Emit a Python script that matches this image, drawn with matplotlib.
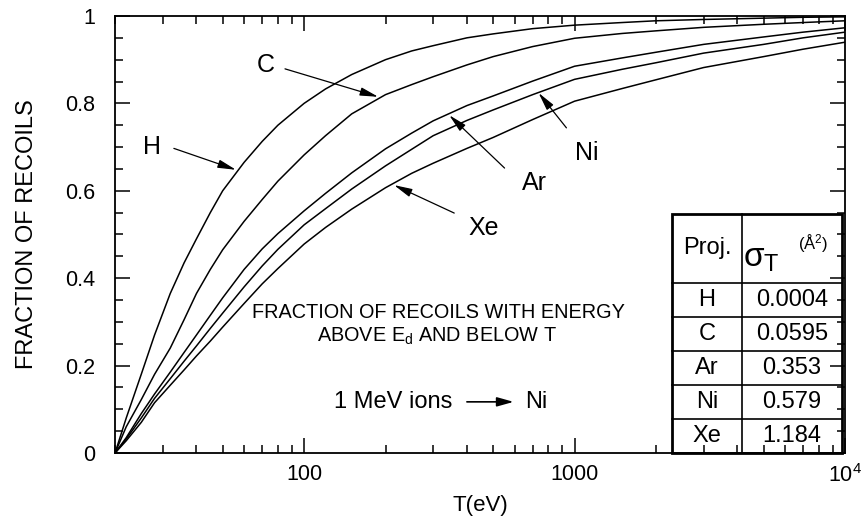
import matplotlib
matplotlib.use('Agg')
import matplotlib.pyplot as plt
from matplotlib.ticker import FixedLocator, FixedFormatter, LogLocator, NullFormatter, MultipleLocator

plt.rcParams['font.family'] = ['Liberation Sans', 'DejaVu Sans']
plt.rcParams['mathtext.default'] = 'regular'

# recoil energy T (eV) and fraction of recoils between E_d and T
T = [20, 22, 25, 28, 32, 36, 40, 45, 50, 60, 70, 80, 100, 120, 150, 200, 250, 300,
     400, 500, 700, 1000, 1500, 2000, 3000, 5000, 7000, 10000]
frac_H = [0, 0.08, 0.18, 0.27, 0.365, 0.435, 0.49, 0.55, 0.60, 0.665, 0.713, 0.75, 0.80,
          0.833, 0.866, 0.90, 0.92, 0.932, 0.95, 0.959, 0.971, 0.979, 0.985, 0.989,
          0.992, 0.995, 0.997, 0.998]
frac_C = [0, 0.06, 0.122, 0.18, 0.24, 0.305, 0.365, 0.42, 0.465, 0.53, 0.58, 0.622, 0.682,
          0.726, 0.776, 0.82, 0.843, 0.861, 0.888, 0.907, 0.93, 0.949, 0.96, 0.966,
          0.974, 0.981, 0.985, 0.989]
frac_Ar = [0, 0.035, 0.09, 0.135, 0.185, 0.23, 0.27, 0.315, 0.355, 0.42, 0.467, 0.502, 0.554,
           0.594, 0.641, 0.696, 0.732, 0.76, 0.795, 0.817, 0.851, 0.885, 0.904, 0.917,
           0.935, 0.952, 0.963, 0.973]
frac_Ni = [0, 0.032, 0.08, 0.125, 0.17, 0.21, 0.245, 0.285, 0.32, 0.38, 0.428, 0.466, 0.522,
           0.559, 0.604, 0.657, 0.695, 0.726, 0.761, 0.785, 0.82, 0.855, 0.878, 0.893,
           0.915, 0.935, 0.95, 0.963]
frac_Xe = [0, 0.028, 0.07, 0.115, 0.155, 0.19, 0.222, 0.256, 0.288, 0.342, 0.387, 0.422, 0.478,
           0.516, 0.558, 0.607, 0.64, 0.663, 0.697, 0.722, 0.763, 0.805, 0.834, 0.854,
           0.882, 0.907, 0.924, 0.94]

proj = ['H', 'C', 'Ar', 'Ni', 'Xe']
sigma = ['0.0004', '0.0595', '0.353', '0.579', '1.184']

fig = plt.figure(figsize=(8.63, 5.29), dpi=100)
ax = fig.add_axes([0.1333, 0.1437, 0.8459, 0.8261])

for f in [frac_H, frac_C, frac_Ar, frac_Ni, frac_Xe]:
    ax.plot(T, f, color='black', lw=1.1)

ax.set_xscale('log')
ax.set_xlim(20, 10000)
ax.set_ylim(0, 1)

ax.xaxis.set_major_locator(FixedLocator([100, 1000, 10000]))
ax.xaxis.set_major_formatter(FixedFormatter(['100', '1000', '10$^4$']))
ax.xaxis.set_minor_locator(LogLocator(base=10, subs=range(2, 10)))
ax.xaxis.set_minor_formatter(NullFormatter())
ax.yaxis.set_major_locator(FixedLocator([0, 0.2, 0.4, 0.6, 0.8, 1]))
ax.yaxis.set_major_formatter(FixedFormatter(['0', '0.2', '0.4', '0.6', '0.8', '1']))
ax.yaxis.set_minor_locator(MultipleLocator(0.05))

ax.tick_params(which='both', direction='in', top=True, right=True, width=1.1)
ax.tick_params(which='major', length=11, labelsize=15.5)
ax.tick_params(which='minor', length=6)
ax.tick_params(axis='y', pad=14)
ax.tick_params(axis='x', pad=8)
for s in ax.spines.values():
    s.set_linewidth(1.3)

ax.set_ylabel('FRACTION OF RECOILS', fontsize=17, labelpad=20)
ax.set_xlabel('T(eV)', fontsize=16, labelpad=6)

# curve labels with arrows
arrow = dict(arrowstyle='-|>,head_length=1.1,head_width=0.25', color='black', lw=0.9,
             shrinkA=0, shrinkB=0)
lab = dict(fontsize=18, ha='center', va='center')
ax.text(27.3, 0.70, 'H', **lab)
ax.annotate('', xy=(56, 0.648), xytext=(33, 0.697), arrowprops=arrow)
ax.text(72.3, 0.888, 'C', **lab)
ax.annotate('', xy=(188, 0.815), xytext=(85, 0.879), arrowprops=arrow)
ax.text(711, 0.618, 'Ar', **lab)
ax.annotate('', xy=(344, 0.773), xytext=(551, 0.652), arrowprops=arrow)
ax.text(1107, 0.686, 'Ni', **lab)
ax.annotate('', xy=(736, 0.824), xytext=(933, 0.744), arrowprops=arrow)
ax.text(460, 0.515, 'Xe', **lab)
ax.annotate('', xy=(215, 0.613), xytext=(359, 0.549), arrowprops=arrow)

ax.text(0.443, 0.321, 'FRACTION OF RECOILS WITH ENERGY', transform=ax.transAxes,
        fontsize=14.3, ha='center', va='center')
ax.text(0.441, 0.266, 'ABOVE E$_d$ AND BELOW T', transform=ax.transAxes,
        fontsize=14.3, ha='center', va='center')

ax.text(0.462, 0.117, '1 MeV ions', transform=ax.transAxes, fontsize=17, ha='right', va='center')
ax.annotate('', xy=(0.546, 0.117), xytext=(0.482, 0.117), xycoords='axes fraction',
            textcoords='axes fraction',
            arrowprops=dict(arrowstyle='-|>,head_length=1.0,head_width=0.28', color='black',
                            lw=1.2, shrinkA=0, shrinkB=0))
ax.text(0.562, 0.117, 'Ni', transform=ax.transAxes, fontsize=17, ha='left', va='center')

# cross-section table in the lower right corner
left, mid, right = 0.763, 0.859, 0.996
top, head_h, row_h = 0.547, 0.158, 0.0778
bottom = top - head_h - row_h * len(proj)
tkw = dict(transform=ax.transAxes, color='black', clip_on=False)
ax.add_patch(plt.Rectangle((left, bottom), right - left, top - bottom, color='white',
                           transform=ax.transAxes, zorder=0.5))
ax.add_patch(plt.Rectangle((left, bottom), right - left, top - bottom, fill=False, lw=2.0,
                           transform=ax.transAxes, clip_on=False, zorder=5))
ax.plot([mid, mid], [bottom, top], lw=1.2, **tkw)
for i in range(len(proj)):
    yl = top - head_h - row_h * i
    ax.plot([left, right], [yl, yl], lw=1.2, **tkw)

ax.text((left + mid) / 2, top - head_h / 2, 'Proj.', transform=ax.transAxes,
        fontsize=17, ha='center', va='center')
ax.text(0.885, 0.445, r'$\sigma_{T}$', transform=ax.transAxes,
        fontsize=24, ha='center', va='center')
ax.text(0.956, 0.478, '(Å$^2$)', transform=ax.transAxes,
        fontsize=12, ha='center', va='center')
for i, (p, s) in enumerate(zip(proj, sigma)):
    yc = top - head_h - row_h * (i + 0.5)
    ax.text((left + mid) / 2, yc, p, transform=ax.transAxes, fontsize=17,
            ha='center', va='center')
    ax.text((mid + right) / 2, yc, s, transform=ax.transAxes, fontsize=17,
            ha='center', va='center')

fig.savefig('out.png', dpi=100, facecolor='white')
